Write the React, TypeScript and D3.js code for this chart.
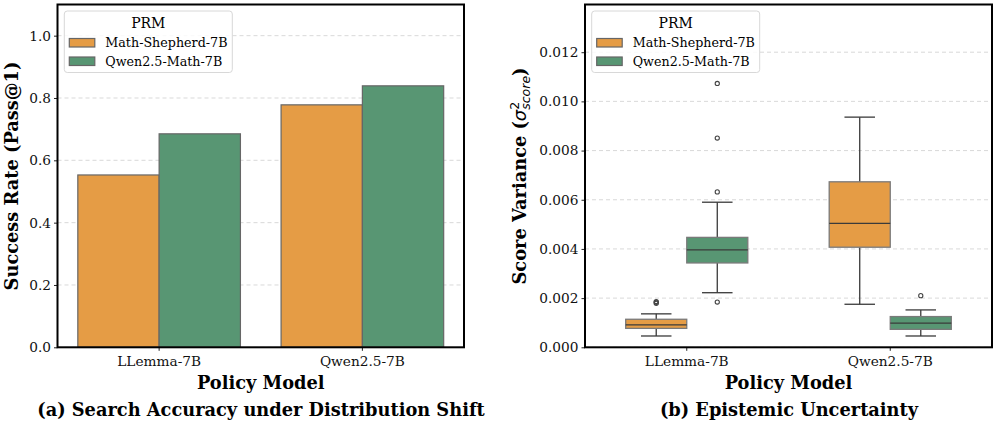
import * as d3 from "d3";
import React, { useRef, useEffect } from "react";

const policies = ["LLemma-7B", "Qwen2.5-7B"];
const prms = ["Math-Shepherd-7B", "Qwen2.5-Math-7B"];
const colors = ["#E59C45", "#589673"];

// panel (a): pass@1 per policy, one array per PRM
const shepherdAcc = [0.553, 0.778];
const qwenAcc = [0.685, 0.839];

// panel (b): [whiskerLow, q1, median, q3, whiskerHigh]
const shepherdBox = [
	[0.00046, 0.00077, 0.00091, 0.00114, 0.00136],
	[0.00175, 0.00407, 0.00504, 0.00673, 0.00936],
];
const qwenBox = [
	[0.00222, 0.00343, 0.00396, 0.00447, 0.0059],
	[0.00046, 0.00073, 0.00098, 0.00125, 0.00152],
];
const shepherdOutliers = [[0.00179, 0.00183, 0.00186], []];
const qwenOutliers = [[0.00184, 0.00632, 0.00851, 0.01073], [0.0021]];

const accTicks = [0, 0.2, 0.4, 0.6, 0.8, 1.0];
const varTicks = [0, 0.002, 0.004, 0.006, 0.008, 0.01, 0.012];

const W = 996;
const H = 425;
const top = 4.5;
const bottom = 347.3;
const serif = "DejaVu Serif";
const labelSize = 17.8;

const App = () => {
	const ref = useRef(null);

	useEffect(() => {
		if (!ref.current) return;
		const svg = d3.select(ref.current);
		svg.selectAll("*").remove();

		const drawGrid = (left: number, right: number, y: any, ticks: number[]) => {
			svg.append("g")
				.selectAll("line")
				.data(ticks)
				.enter()
				.append("line")
				.attr("x1", left)
				.attr("x2", right)
				.attr("y1", (d: number) => y(d))
				.attr("y2", (d: number) => y(d))
				.attr("stroke", "#cfcfcf")
				.attr("stroke-width", 0.8)
				.attr("stroke-dasharray", "4,3");
		};

		const drawAxes = (left: number, right: number, x: any, y: any, ticks: number[], fmt: any) => {
			const ya = svg
				.append("g")
				.attr("transform", `translate(${left},0)`)
				.call(d3.axisLeft(y).tickValues(ticks).tickFormat(fmt).tickSize(3.5).tickPadding(3));
			ya.select(".domain").remove();
			ya.selectAll("text").attr("font-family", serif).attr("font-size", 13.7).attr("fill", "#111");
			ya.selectAll("line").attr("stroke", "#222");

			const xa = svg
				.append("g")
				.attr("transform", `translate(0,${bottom})`)
				.call(d3.axisBottom(x).tickSize(3.5).tickPadding(5));
			xa.select(".domain").remove();
			xa.selectAll("text").attr("font-family", serif).attr("font-size", 13.7).attr("fill", "#111");
			xa.selectAll("line").attr("stroke", "#222");

			svg.append("rect")
				.attr("x", left)
				.attr("y", top)
				.attr("width", right - left)
				.attr("height", bottom - top)
				.attr("fill", "none")
				.attr("stroke", "#000")
				.attr("stroke-width", 2);

			svg.append("text")
				.attr("x", (left + right) / 2)
				.attr("y", 389)
				.attr("text-anchor", "middle")
				.attr("font-family", serif)
				.attr("font-weight", "bold")
				.attr("font-size", labelSize)
				.text("Policy Model");
		};

		const drawLegend = (x0: number) => {
			const lg = svg.append("g").attr("transform", `translate(${x0},11)`);
			lg.append("rect")
				.attr("width", 168)
				.attr("height", 61.5)
				.attr("rx", 3)
				.attr("fill", "#fff")
				.attr("fill-opacity", 0.85)
				.attr("stroke", "#d8d8d8");
			lg.append("text")
				.attr("x", 84)
				.attr("y", 17)
				.attr("text-anchor", "middle")
				.attr("font-family", serif)
				.attr("font-size", 14)
				.text("PRM");
			prms.forEach((p, i) => {
				lg.append("rect")
					.attr("x", 5)
					.attr("y", 27.5 + i * 18.5)
					.attr("width", 25.5)
					.attr("height", 8.5)
					.attr("fill", colors[i])
					.attr("stroke", "#666")
					.attr("stroke-width", 1.2);
				lg.append("text")
					.attr("x", 41)
					.attr("y", 36 + i * 18.5)
					.attr("font-family", serif)
					.attr("font-size", 12.7)
					.text(p);
			});
		};

		// ---------- panel (a) ----------
		const aL = 57.5;
		const aR = 464;
		const xa = d3.scaleBand().domain(policies).range([aL, aR]).padding(0);
		const ha = d3.scaleBand().domain(prms).range([0, xa.bandwidth()]).paddingInner(0).paddingOuter(0.25);
		const ya = d3.scaleLinear().domain([0, 1.1]).range([bottom, top]);
		drawGrid(aL, aR, ya, accTicks);

		const accSeries = [shepherdAcc, qwenAcc];
		accSeries.forEach((vals, si) => {
			svg.append("g")
				.selectAll("rect")
				.data(vals)
				.enter()
				.append("rect")
				.attr("x", (d: number, i: number): any => (xa(policies[i]) as number) + (ha(prms[si]) as number))
				.attr("y", (d: number) => ya(d))
				.attr("width", ha.bandwidth())
				.attr("height", (d: number) => bottom - ya(d))
				.attr("fill", colors[si])
				.attr("stroke", "#666")
				.attr("stroke-width", 1.2);
		});
		drawAxes(aL, aR, xa, ya, accTicks, d3.format(".1f"));
		drawLegend(64.3);

		svg.append("text")
			.attr("transform", `translate(18,176) rotate(-90)`)
			.attr("text-anchor", "middle")
			.attr("font-family", serif)
			.attr("font-weight", "bold")
			.attr("font-size", labelSize)
			.text("Success Rate (Pass@1)");

		svg.append("text")
			.attr("x", 261)
			.attr("y", 415.5)
			.attr("text-anchor", "middle")
			.attr("font-family", serif)
			.attr("font-weight", "bold")
			.attr("font-size", labelSize)
			.text("(a) Search Accuracy under Distribution Shift");

		// ---------- panel (b) ----------
		const bL = 585;
		const bR = 992;
		const xb = d3.scaleBand().domain(policies).range([bL, bR]).padding(0);
		const hb = d3.scaleBand().domain(prms).range([0, xb.bandwidth()]).paddingInner(0).paddingOuter(2 / 3);
		const yb = d3.scaleLinear().domain([0, 0.01394]).range([bottom, top]);
		drawGrid(bL, bR, yb, varTicks);

		const boxSeries = [shepherdBox, qwenBox];
		const outSeries = [shepherdOutliers, qwenOutliers];
		boxSeries.forEach((stats, si) => {
			stats.forEach((s, pi) => {
				const x0 = (xb(policies[pi]) as number) + (hb(prms[si]) as number);
				const bw = hb.bandwidth();
				const cx = x0 + bw / 2;
				const g = svg.append("g");
				const [lo, q1, med, q3, hi] = s;
				g.append("line")
					.attr("x1", cx).attr("x2", cx)
					.attr("y1", yb(q1)).attr("y2", yb(lo))
					.attr("stroke", "#3a3a3a").attr("stroke-width", 1.3);
				g.append("line")
					.attr("x1", cx).attr("x2", cx)
					.attr("y1", yb(q3)).attr("y2", yb(hi))
					.attr("stroke", "#3a3a3a").attr("stroke-width", 1.3);
				[lo, hi].forEach((v) => {
					g.append("line")
						.attr("x1", cx - bw / 4).attr("x2", cx + bw / 4)
						.attr("y1", yb(v)).attr("y2", yb(v))
						.attr("stroke", "#3a3a3a").attr("stroke-width", 1.3);
				});
				g.append("rect")
					.attr("x", x0)
					.attr("y", yb(q3))
					.attr("width", bw)
					.attr("height", yb(q1) - yb(q3))
					.attr("fill", colors[si])
					.attr("stroke", "#7a7a7a")
					.attr("stroke-width", 1.3);
				g.append("line")
					.attr("x1", x0).attr("x2", x0 + bw)
					.attr("y1", yb(med)).attr("y2", yb(med))
					.attr("stroke", "#3a3a3a").attr("stroke-width", 1.3);
				g.selectAll("circle")
					.data(outSeries[si][pi])
					.enter()
					.append("circle")
					.attr("cx", cx)
					.attr("cy", (d: number) => yb(d))
					.attr("r", 2.1)
					.attr("fill", "none")
					.attr("stroke", "#444")
					.attr("stroke-width", 1.1);
			});
		});
		drawAxes(bL, bR, xb, yb, varTicks, d3.format(".3f"));
		drawLegend(591.7);

		const yl = svg
			.append("text")
			.attr("transform", `translate(526,176) rotate(-90)`)
			.attr("text-anchor", "middle")
			.attr("font-size", labelSize);
		yl.append("tspan").attr("font-family", serif).attr("font-weight", "bold").text("Score Variance (");
		yl.append("tspan").attr("font-family", "DejaVu Sans").attr("font-style", "italic").text("σ");
		yl.append("tspan").attr("font-family", "DejaVu Sans").attr("font-size", 12.5).attr("dy", -7.5).text("2");
		yl.append("tspan")
			.attr("font-family", "DejaVu Sans")
			.attr("font-style", "italic")
			.attr("font-size", 12.5)
			.attr("dx", -7.9)
			.attr("dy", 11.5)
			.text("score");
		yl.append("tspan").attr("font-family", serif).attr("font-weight", "bold").attr("dy", -4).text(")");

		svg.append("text")
			.attr("x", 789)
			.attr("y", 415.5)
			.attr("text-anchor", "middle")
			.attr("font-family", serif)
			.attr("font-weight", "bold")
			.attr("font-size", labelSize)
			.text("(b) Epistemic Uncertainty");
	}, []);

	return (
		<div style={{ position: "absolute", left: 0, top: 0 }}>
			<svg ref={ref} width={W} height={H} style={{ display: "block", backgroundColor: "white" }} />
		</div>
	);
};

export default App;
